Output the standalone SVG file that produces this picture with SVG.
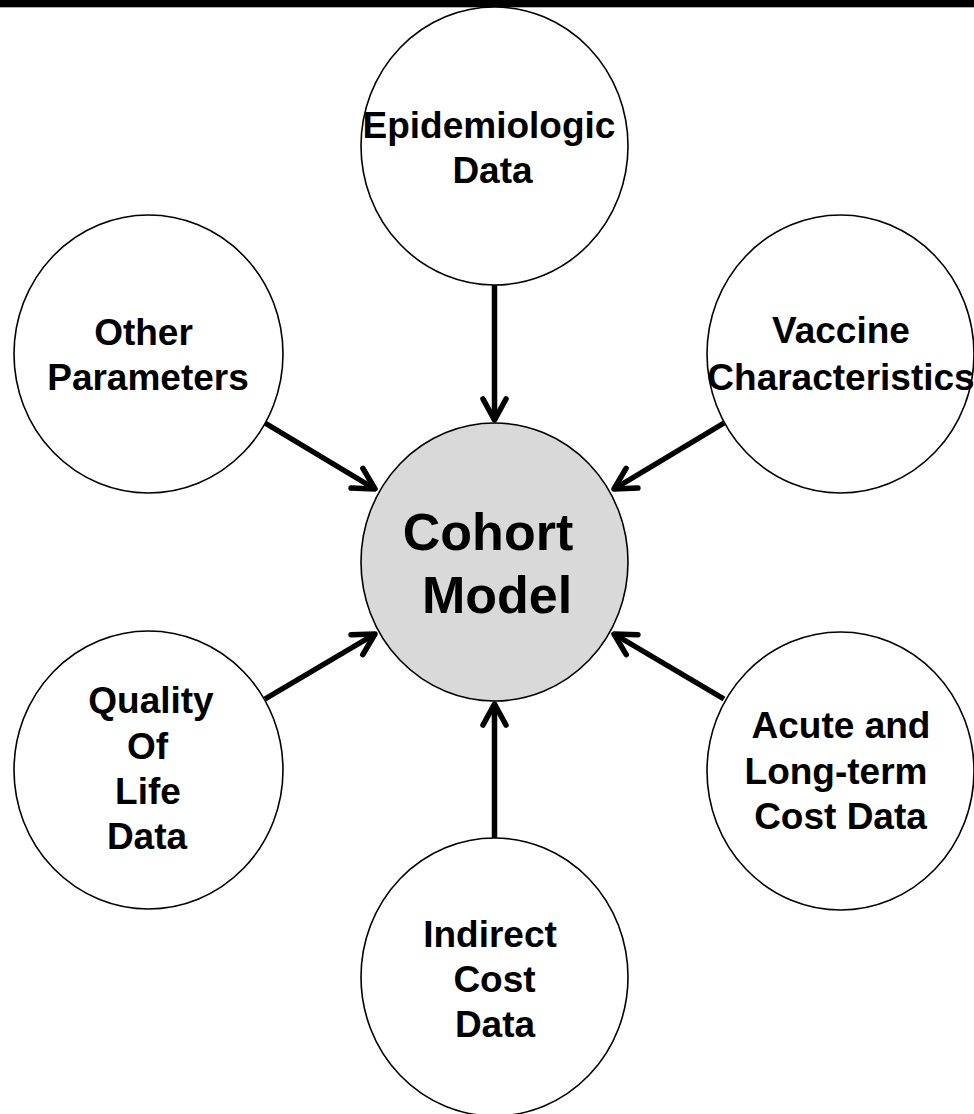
<svg xmlns="http://www.w3.org/2000/svg" width="974" height="1114" viewBox="0 0 974 1114">
<style>
.node{fill:#ffffff;stroke:#000000;stroke-width:1.6}
.center{fill:#d9d9d9;stroke:#000000;stroke-width:1.6}
.lbl{font-family:"Liberation Sans",Arial,sans-serif;font-weight:bold;font-size:37px;fill:#000000;text-anchor:middle}
.big{font-size:52px}
.arrow{stroke:#000000;stroke-width:5.5;fill:none;marker-end:url(#head)}
</style>
<defs>
<marker id="head" markerUnits="userSpaceOnUse" viewBox="-26 -16 30 32" refX="0" refY="0" markerWidth="30" markerHeight="32" orient="auto">
<path d="M-21,-11.5 L0,0 L-21,11.5" fill="none" stroke="#000000" stroke-width="5.5" stroke-linecap="round" stroke-linejoin="round"/>
</marker>
</defs>
<rect x="0" y="0" width="974" height="7" fill="#000000"/>
<line x1="0" y1="7.5" x2="974" y2="7.5" stroke="#b0b0b0" stroke-width="1"/>
<g id="connectors">
<line class="arrow" x1="494.5" y1="285" x2="494.5" y2="420"/>
<line class="arrow" x1="265" y1="423" x2="375" y2="489"/>
<line class="arrow" x1="724" y1="423" x2="614" y2="489"/>
<line class="arrow" x1="265" y1="699" x2="375" y2="634"/>
<line class="arrow" x1="724" y1="699" x2="614" y2="634"/>
<line class="arrow" x1="494.5" y1="838" x2="494.5" y2="704"/>
</g>
<g id="cohort-model">
<ellipse class="center" cx="494.5" cy="562" rx="133.5" ry="139"/>
<text class="lbl big" x="488" y="550">Cohort</text>
<text class="lbl big" x="497" y="613">Model</text>
</g>
<g id="epidemiologic-data">
<ellipse class="node" cx="494.5" cy="146" rx="133.5" ry="139"/>
<text class="lbl" x="489" y="138">Epidemiologic</text>
<text class="lbl" x="492.5" y="183">Data</text>
</g>
<g id="other-parameters">
<ellipse class="node" cx="148.5" cy="354" rx="134.5" ry="139"/>
<text class="lbl" x="143.5" y="345">Other</text>
<text class="lbl" x="148" y="390">Parameters</text>
</g>
<g id="vaccine-characteristics">
<ellipse class="node" cx="840.5" cy="354" rx="133.5" ry="139"/>
<text class="lbl" x="841" y="343">Vaccine</text>
<text class="lbl" x="841" y="390">Characteristics</text>
</g>
<g id="quality-of-life-data">
<ellipse class="node" cx="148.5" cy="770" rx="134.5" ry="139"/>
<text class="lbl" x="151" y="713">Quality</text>
<text class="lbl" x="147.5" y="759">Of</text>
<text class="lbl" x="148" y="804">Life</text>
<text class="lbl" x="147" y="849">Data</text>
</g>
<g id="acute-long-term-cost-data">
<ellipse class="node" cx="840.5" cy="771" rx="133.5" ry="139"/>
<text class="lbl" x="841" y="738">Acute and</text>
<text class="lbl" x="836" y="784">Long-term</text>
<text class="lbl" x="840.5" y="829">Cost Data</text>
</g>
<g id="indirect-cost-data">
<ellipse class="node" cx="494.5" cy="977" rx="133.5" ry="139"/>
<text class="lbl" x="490" y="947">Indirect</text>
<text class="lbl" x="494.5" y="992">Cost</text>
<text class="lbl" x="495" y="1037">Data</text>
</g>
</svg>
